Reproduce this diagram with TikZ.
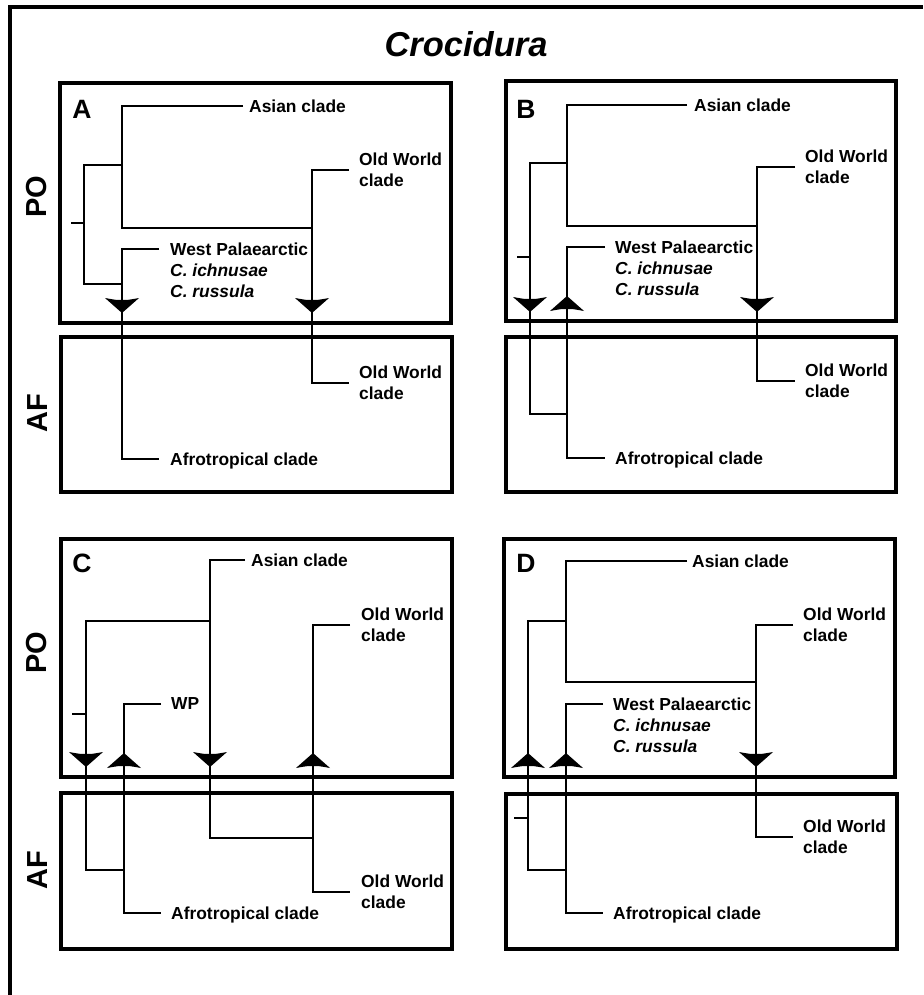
\documentclass[tikz,border=0pt]{standalone}
\usepackage{fontspec}
\setmainfont{Liberation Sans}
\usetikzlibrary{positioning}
\tikzset{
  branch/.style={line width=2.8pt},
  region/.style={draw, line width=3.3pt},
  taxon/.style={font=\fontsize{17.4}{21}\selectfont\bfseries, inner sep=0pt, align=left},
  hang/.style={anchor=north west, yshift=6.5pt},
  panel/.style={font=\fontsize{26.5}{30}\selectfont\bfseries, inner sep=0pt},
  area/.style={font=\fontsize{29}{32}\selectfont\bfseries, inner sep=0pt, rotate=90},
  arrdown/.pic={\fill (-17,-15) -- (0,0) -- (17,-15) .. controls (6,-13) .. (0,-13) .. controls (-6,-13) .. cycle;},
  arrup/.pic={\fill (-17,15) -- (0,0) -- (17,15) .. controls (6,13) .. (0,13) .. controls (-6,13) .. cycle;},
}

\begin{document}
\begin{tikzpicture}[x=1pt, y=-1pt]
\useasboundingbox (0,0) rectangle (923,995);

% frame and title
\draw[line width=3.3pt] (10,995) -- (10,7) -- (923,7);
\node[font=\fontsize{34.5}{40}\selectfont\bfseries\itshape] (title) at (466,44) {Crocidura};

% area labels
\node[area] (poTop) at (37,197) {PO};
\node[area] (afTop) at (38,413) {AF};
\node[area] (poBot) at (37,653) {PO};
\node[area] (afBot) at (38,870) {AF};

% regions
\draw[region] (60,83) rectangle (451,323);
\draw[region] (61,337) rectangle (452,492);
\draw[region] (506,81) rectangle (896,321);
\draw[region] (506,337) rectangle (896,492);
\draw[region] (61,539) rectangle (452,777);
\draw[region] (61,793) rectangle (452,949);
\draw[region] (504,539) rectangle (895,777);
\draw[region] (506,794) rectangle (897,949);

% Panel A
\node[panel] (lA) at (82,109) {A};
\coordinate (a-stub) at (71,223);
\coordinate (a-root) at (84,223);
\coordinate (a-n1) at (122,165);
\coordinate (a-n2) at (122,284);
\coordinate (a-n3) at (312,228);
\coordinate (a-asia) at (243,106);
\coordinate (a-ow1) at (349,170);
\coordinate (a-ow2) at (349,383);
\coordinate (a-wp) at (159,249);
\coordinate (a-afro) at (159,459);
\draw[branch] (a-stub) -- (a-root);
\draw[branch] (a-n1) -| (a-root) |- (a-n2);
\draw[branch] (a-asia) -| (a-n1) |- (a-n3);
\draw[branch] (a-ow1) -| (a-n3) |- (a-ow2);
\draw[branch] (a-wp) -| (a-n2) |- (a-afro);
\pic at (122,313) {arrdown};
\pic at (312,313) {arrdown};
\node[taxon, right=6pt of a-asia, hang] (a-asia-t) {Asian clade};
\node[taxon, right=10pt of a-ow1] (a-ow1-t) {Old World\\clade};
\node[taxon, right=11pt of a-wp, hang] (a-wp-t) {West Palaearctic\\\textit{C. ichnusae}\\\textit{C. russula}};
\node[taxon, right=10pt of a-ow2] (a-ow2-t) {Old World\\clade};
\node[taxon, right=11pt of a-afro, hang] (a-afro-t) {Afrotropical clade};

% Panel B
\node[panel] (lB) at (526,109) {B};
\coordinate (b-stub) at (517,257);
\coordinate (b-root) at (530,257);
\coordinate (b-n1) at (567,163);
\coordinate (b-n2) at (567,414);
\coordinate (b-n3) at (757,226);
\coordinate (b-asia) at (687,105);
\coordinate (b-ow1) at (795,167);
\coordinate (b-ow2) at (795,381);
\coordinate (b-wp) at (605,247);
\coordinate (b-afro) at (605,458);
\draw[branch] (b-stub) -- (b-root);
\draw[branch] (b-n1) -| (b-root) |- (b-n2);
\draw[branch] (b-asia) -| (b-n1) |- (b-n3);
\draw[branch] (b-ow1) -| (b-n3) |- (b-ow2);
\draw[branch] (b-wp) -| (b-n2) |- (b-afro);
\pic at (530,312) {arrdown};
\pic at (567,296) {arrup};
\pic at (757,312) {arrdown};
\node[taxon, right=7pt of b-asia, hang] (b-asia-t) {Asian clade};
\node[taxon, right=10pt of b-ow1] (b-ow1-t) {Old World\\clade};
\node[taxon, right=10pt of b-wp, hang] (b-wp-t) {West Palaearctic\\\textit{C. ichnusae}\\\textit{C. russula}};
\node[taxon, right=10pt of b-ow2] (b-ow2-t) {Old World\\clade};
\node[taxon, right=10pt of b-afro, hang] (b-afro-t) {Afrotropical clade};

% Panel C
\node[panel] (lC) at (82,563) {C};
\coordinate (c-stub) at (72,714);
\coordinate (c-root) at (86,714);
\coordinate (c-n1) at (210,621);
\coordinate (c-n2) at (124,870);
\coordinate (c-n3) at (313,838);
\coordinate (c-asia) at (245,560);
\coordinate (c-ow1) at (350,625);
\coordinate (c-ow2) at (350,892);
\coordinate (c-wp) at (161,704);
\coordinate (c-afro) at (161,913);
\draw[branch] (c-stub) -- (c-root);
\draw[branch] (c-n1) -| (c-root) |- (c-n2);
\draw[branch] (c-asia) -| (c-n1) |- (c-n3);
\draw[branch] (c-ow1) -| (c-n3) |- (c-ow2);
\draw[branch] (c-wp) -| (c-n2) |- (c-afro);
\pic at (86,767) {arrdown};
\pic at (124,753) {arrup};
\pic at (210,767) {arrdown};
\pic at (313,753) {arrup};
\node[taxon, right=6pt of c-asia, hang] (c-asia-t) {Asian clade};
\node[taxon, right=11pt of c-ow1] (c-ow1-t) {Old World\\clade};
\node[taxon, right=10pt of c-wp, hang] (c-wp-t) {WP};
\node[taxon, right=11pt of c-ow2] (c-ow2-t) {Old World\\clade};
\node[taxon, right=10pt of c-afro, hang] (c-afro-t) {Afrotropical clade};

% Panel D
\node[panel] (lD) at (526,563) {D};
\coordinate (d-stub) at (514,818);
\coordinate (d-root) at (528,818);
\coordinate (d-n1) at (566,621);
\coordinate (d-n2) at (566,870);
\coordinate (d-n3) at (756,682);
\coordinate (d-asia) at (687,561);
\coordinate (d-ow1) at (793,625);
\coordinate (d-ow2) at (793,837);
\coordinate (d-wp) at (603,704);
\coordinate (d-afro) at (603,913);
\draw[branch] (d-stub) -- (d-root);
\draw[branch] (d-n1) -| (d-root) |- (d-n2);
\draw[branch] (d-asia) -| (d-n1) |- (d-n3);
\draw[branch] (d-ow1) -| (d-n3) |- (d-ow2);
\draw[branch] (d-wp) -| (d-n2) |- (d-afro);
\pic at (528,753) {arrup};
\pic at (566,753) {arrup};
\pic at (756,767) {arrdown};
\node[taxon, right=5pt of d-asia, hang] (d-asia-t) {Asian clade};
\node[taxon, right=10pt of d-ow1] (d-ow1-t) {Old World\\clade};
\node[taxon, right=10pt of d-wp, hang] (d-wp-t) {West Palaearctic\\\textit{C. ichnusae}\\\textit{C. russula}};
\node[taxon, right=10pt of d-ow2] (d-ow2-t) {Old World\\clade};
\node[taxon, right=10pt of d-afro, hang] (d-afro-t) {Afrotropical clade};

\end{tikzpicture}
\end{document}
